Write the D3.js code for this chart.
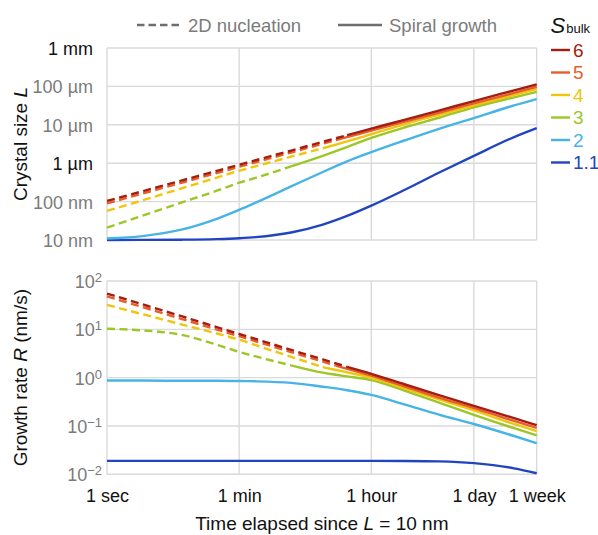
<!DOCTYPE html>
<html>
<head>
<meta charset="utf-8">
<script src="https://cdn.jsdelivr.net/npm/d3@7"></script>
<style>
  body { margin: 0; background: #fff; }
  svg { display: block; font-family: "Liberation Sans", Arial, Helvetica, sans-serif; }
</style>
</head>
<body>
<svg id="chart" width="598" height="535"></svg>
<script>
// time since L = 10 nm (s)
const timeSec = [1, 3, 10, 30, 60, 100, 300, 800, 1200, 1700, 3600, 1e4, 3e4, 86400, 3e5, 604800];

const sBulk = ['6', '5', '4', '3', '2', '1.1'];
const lineColors = ['#a51d10', '#e85d2a', '#f0c50a', '#9dc627', '#48b4e6', '#2145bf'];
// end of the 2D nucleation regime (s); null = spiral growth only
const nucleationEnd = [1700, 1200, 800, 300, null, null];

// crystal size L (nm)
const size6 = [104, 186, 353, 631, 910, 1194, 2130, 3600, 4450, 5360, 7920, 13490, 23850, 41500, 78800, 113000];
const size5 = [90, 162, 309, 555, 805, 1058, 1900, 3215, 4000, 4785, 7030, 11900, 20950, 36000, 68000, 98000];
const size4 = [57, 108, 220, 420, 635, 830, 1480, 2450, 3050, 3700, 5700, 10300, 18500, 32000, 60000, 85000];
const size3 = [21, 43, 94, 192, 310, 415, 830, 1560, 2060, 2640, 4550, 8500, 15500, 28500, 52000, 72000];
const size2 = [10.9, 12.6, 18.6, 35.7, 61, 94, 248, 590, 835, 1120, 1950, 3900, 8000, 15000, 32000, 47000];
const size11 = [10.02, 10.06, 10.19, 10.57, 11.14, 11.9, 15.7, 25.2, 32.8, 42.3, 78.4, 200, 580, 1550, 4800, 8200];

// growth rate R (nm/s)
const rate6 = [55, 32.9, 18.7, 11.1, 8.0, 6.3, 3.76, 2.38, 1.97, 1.67, 1.2, 0.73, 0.43, 0.26, 0.145, 0.104];
const rate5 = [48, 28.9, 16.5, 9.9, 7.2, 5.66, 3.39, 2.15, 1.78, 1.52, 1.1, 0.66, 0.38, 0.235, 0.127, 0.091];
const rate4 = [32, 20.6, 12.7, 8.2, 6.1, 4.7, 2.7, 1.65, 1.44, 1.29, 1.0, 0.6, 0.35, 0.21, 0.11, 0.078];
const rate3 = [10.3, 9.5, 7.7, 4.8, 3.4, 2.75, 1.8, 1.27, 1.15, 1.06, 0.89, 0.54, 0.30, 0.17, 0.09, 0.064];
const rate2 = [0.87, 0.87, 0.86, 0.86, 0.85, 0.84, 0.78, 0.65, 0.6, 0.55, 0.44, 0.28, 0.17, 0.11, 0.062, 0.044];
const rate11 = [0.019, 0.019, 0.019, 0.019, 0.019, 0.019, 0.019, 0.019, 0.019, 0.019, 0.019, 0.0189, 0.0185, 0.017, 0.0133, 0.0105];

const sizeSeries = [size6, size5, size4, size3, size2, size11];
const rateSeries = [rate6, rate5, rate4, rate3, rate2, rate11];

const timeTicks = [1, 60, 3600, 86400, 604800];
const timeLabels = ['1 sec', '1 min', '1 hour', '1 day', '1 week'];
const sizeTicks = [10, 100, 1e3, 1e4, 1e5, 1e6];
const sizeLabels = ['10 nm', '100 nm', '1 µm', '10 µm', '100 µm', '1 mm'];
const sizeLabelDark = [false, false, true, false, false, true];
const rateTicks = [0.01, 0.1, 1, 10, 100];
const rateExponents = ['\u22122', '\u22121', '0', '1', '2'];

const svg = d3.select('#chart');
const left = 107, right = 536.7;
const gridColor = '#dadada';
const gray = '#7b7b7b';

const x = d3.scaleLog().domain([1, 604800]).range([left, right]);
const ySize = d3.scaleLog().domain([10, 1e6]).range([240, 48]);
const yRate = d3.scaleLog().domain([0.01, 100]).range([474.3, 281]);

function grid(yScale, yTicks) {
  const [y0, y1] = yScale.range();
  const g = svg.append('g');
  g.selectAll('.hgrid')
    .data(yTicks)
    .enter()
    .append('line')
    .attr('x1', left).attr('x2', right)
    .attr('y1', (d) => yScale(d)).attr('y2', (d) => yScale(d))
    .attr('stroke', gridColor).attr('stroke-width', 1.4);
  g.selectAll('.vgrid')
    .data(timeTicks)
    .enter()
    .append('line')
    .attr('x1', (d) => x(d)).attr('x2', (d) => x(d))
    .attr('y1', y0).attr('y2', y1)
    .attr('stroke', gridColor).attr('stroke-width', 1.4);
}

function curves(yScale, series) {
  const line = d3.line()
    .x((d) => x(d.t))
    .y((d) => yScale(d.v))
    .curve(d3.curveMonotoneX);
  const g = svg.append('g').attr('fill', 'none').attr('stroke-width', 2.4);

  // low supersaturation first so the S = 6 curve ends on top
  d3.range(series.length - 1, -1, -1).forEach((i) => {
    const pts = timeSec.map((t, k) => ({ t: t, v: series[i][k] }));
    const tc = nucleationEnd[i];
    if (tc !== null) {
      g.append('path')
        .attr('d', line(pts.filter((p) => p.t <= tc)))
        .attr('stroke', lineColors[i])
        .attr('stroke-dasharray', '8,4.5');
    }
    g.append('path')
      .attr('d', line(tc === null ? pts : pts.filter((p) => p.t >= tc)))
      .attr('stroke', lineColors[i]);
  });
}

// ---- top panel: crystal size
grid(ySize, sizeTicks);
curves(ySize, sizeSeries);

const sizeAxis = svg.append('g')
  .attr('transform', `translate(${left},0)`)
  .call(d3.axisLeft(ySize).tickValues(sizeTicks).tickSize(0).tickPadding(14)
    .tickFormat((d, i) => sizeLabels[i]));
sizeAxis.select('.domain').remove();
sizeAxis.selectAll('text')
  .attr('font-size', 18)
  .attr('font-family', null)
  .attr('dy', '0.36em')
  .attr('fill', (d, i) => sizeLabelDark[i] ? '#111' : gray);

// ---- bottom panel: growth rate
grid(yRate, rateTicks);
curves(yRate, rateSeries);

const rateAxis = svg.append('g')
  .attr('transform', `translate(${left},0)`)
  .call(d3.axisLeft(yRate).tickValues(rateTicks).tickSize(0).tickPadding(5).tickFormat(''));
rateAxis.select('.domain').remove();
rateAxis.selectAll('text')
  .attr('font-size', 18)
  .attr('font-family', null)
  .attr('dy', '0.36em')
  .attr('fill', gray)
  .each(function(d, i) {
    const t = d3.select(this);
    t.append('tspan').text('10');
    t.append('tspan').attr('font-size', 13).attr('dy', -6).text(rateExponents[i]);
  });

const timeAxis = svg.append('g')
  .attr('transform', 'translate(0,474.3)')
  .call(d3.axisBottom(x).tickValues(timeTicks).tickSize(0).tickPadding(15)
    .tickFormat((d, i) => timeLabels[i]));
timeAxis.select('.domain').remove();
timeAxis.selectAll('text')
  .attr('font-size', 18)
  .attr('font-family', null)
  .attr('fill', '#111');

// ---- axis titles
const title = svg.append('g').attr('font-size', 19).attr('fill', '#111');

const t1 = title.append('text')
  .attr('transform', `translate(27,${(ySize.range()[0] + ySize.range()[1]) / 2}) rotate(-90)`)
  .attr('text-anchor', 'middle');
t1.append('tspan').text('Crystal size ');
t1.append('tspan').attr('font-style', 'italic').text('L');

const t2 = title.append('text')
  .attr('transform', `translate(27,${(yRate.range()[0] + yRate.range()[1]) / 2}) rotate(-90)`)
  .attr('text-anchor', 'middle');
t2.append('tspan').text('Growth rate ');
t2.append('tspan').attr('font-style', 'italic').text('R');
t2.append('tspan').text(' (nm/s)');

const t3 = title.append('text')
  .attr('x', (left + right) / 2)
  .attr('y', 530)
  .attr('text-anchor', 'middle');
t3.append('tspan').text('Time elapsed since ');
t3.append('tspan').attr('font-style', 'italic').text('L');
t3.append('tspan').text(' = 10 nm');

// ---- mechanism legend
const mech = svg.append('g').attr('font-size', 18.5).attr('fill', gray);
mech.append('line')
  .attr('x1', 137).attr('x2', 181).attr('y1', 25).attr('y2', 25)
  .attr('stroke', '#6e6e6e').attr('stroke-width', 2.4).attr('stroke-dasharray', '7.5,4');
mech.append('text').attr('x', 188).attr('y', 31.5).text('2D nucleation');
mech.append('line')
  .attr('x1', 338).attr('x2', 382).attr('y1', 25).attr('y2', 25)
  .attr('stroke', '#6e6e6e').attr('stroke-width', 2.4);
mech.append('text').attr('x', 389).attr('y', 31.5).text('Spiral growth');

// ---- supersaturation legend
const leg = svg.append('g');
const head = leg.append('text').attr('x', 550.5).attr('y', 33).attr('fill', '#111');
head.append('tspan').attr('font-size', 22).attr('font-style', 'italic').text('S');
head.append('tspan').attr('font-size', 13).attr('dx', 1).text('bulk');

const item = leg.selectAll('.item')
  .data(sBulk)
  .enter()
  .append('g')
  .attr('transform', (d, i) => `translate(0,${50 + i * 22.5})`);
item.append('line')
  .attr('x1', 551).attr('x2', 570)
  .attr('stroke', (d, i) => lineColors[i])
  .attr('stroke-width', 2.4);
item.append('text')
  .attr('x', 573)
  .attr('dy', '0.36em')
  .attr('font-size', 19)
  .attr('fill', (d, i) => lineColors[i])
  .text((d) => d);
</script>
</body>
</html>
